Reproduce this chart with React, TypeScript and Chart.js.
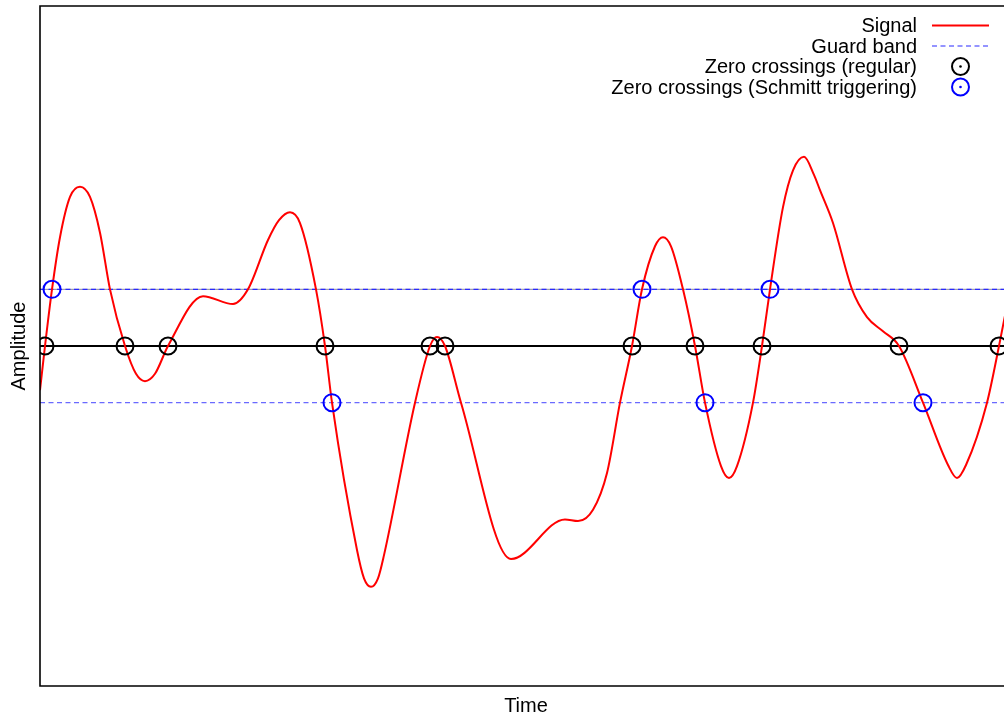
import React, { useEffect, useRef } from "react";
import { Chart, registerables } from "chart.js";

Chart.register(...registerables);

// Sampled signal (time in arbitrary units, amplitude normalised to the guard band)
const signalTime = [
  0.0, 0.5, 1.2, 2.0, 3.0, 4.0, 5.0, 6.0, 7.0, 8.5, 9.6, 10.5, 11.5, 12.8, 16.3, 19.3,
  20.8, 22.8, 23.9, 25.0, 26.0, 27.6, 28.5, 29.2, 31.7, 32.4, 33.1, 33.8, 34.4, 37.5,
  39.0, 39.7, 40.5, 42.1, 47.1, 52.5, 53.8, 55.3, 56.7, 58.0, 59.2, 60.2, 61.5, 62.3,
  63.1, 64.3, 65.5, 66.5, 68.1, 68.9, 69.7, 71.3, 72.2, 73.0, 74.3, 75.3, 76.4, 77.4,
  78.0, 79.3, 81.2, 82.7, 84.3, 85.9, 88.3, 90.8, 91.7, 92.6, 94.7, 95.9, 97.0,
];
const signalAmp = [
  -0.78, 0, 1.0, 1.92, 2.63, 2.81, 2.63, 2.0, 1.0, 0, -0.49, -0.62, -0.49, 0, 0.88, 0.74,
  1.0, 1.87, 2.22, 2.36, 2.17, 1.0, 0, -1.0, -3.6, -4.1, -4.25, -4.1, -3.69, -1.0,
  0, 0.16, 0, -1.0, -3.76, -3.06, -3.09, -2.89, -2.24, -1.0, 0, 1.0, 1.76, 1.92,
  1.76, 1.0, 0, -1.0, -2.12, -2.33, -2.12, -1.0, 0, 1.0, 2.45, 3.1, 3.34, 3.02,
  2.75, 2.17, 1.0, 0.51, 0.26, 0, -1.0, -2.1, -2.33, -2.1, -1.0, 0, 0.99,
];

// Zero crossings found by a plain sign test
const regularCrossTime = [0.5, 8.5, 12.8, 28.5, 39.0, 40.5, 59.2, 65.5, 72.2, 85.9, 95.9];

// Zero crossings found with hysteresis (Schmitt trigger), marked where the guard is passed
const schmittCrossTime = [1.2, 29.2, 60.2, 66.5, 73.0, 88.3];
const schmittCrossLevel = [1, -1, 1, -1, 1, -1];

const guardLevel = 1;
const timeRange = [0, 96.4];
const ampRange = [-6, 6];

const FONT = '"Liberation Sans", Arial, sans-serif';

const legendItems = [
  { label: "Signal", kind: "line" },
  { label: "Guard band", kind: "dash" },
  { label: "Zero crossings (regular)", kind: "circleBlack" },
  { label: "Zero crossings (Schmitt triggering)", kind: "circleBlue" },
];

const framePlugin = {
  id: "frameAndLabels",
  afterDraw(chart: any) {
    const { ctx, chartArea } = chart;
    const { left, top, bottom, right } = chartArea;
    ctx.save();
    // frame (left, top, bottom)
    ctx.strokeStyle = "#000";
    ctx.lineWidth = 1.6;
    ctx.beginPath();
    ctx.moveTo(right + 2, top);
    ctx.lineTo(left, top);
    ctx.lineTo(left, bottom);
    ctx.lineTo(right + 2, bottom);
    ctx.stroke();

    // axis titles
    ctx.fillStyle = "#000";
    ctx.font = `20px ${FONT}`;
    ctx.textAlign = "center";
    ctx.textBaseline = "middle";
    ctx.fillText("Time", 526, 706);
    ctx.save();
    ctx.translate(19, 346);
    ctx.rotate(-Math.PI / 2);
    ctx.fillText("Amplitude", 0, 0);
    ctx.restore();

    // legend, right aligned text with samples to its right
    const textRight = 917;
    const sx0 = 932;
    const sx1 = 989;
    legendItems.forEach((it, i) => {
      const y = 25.5 + i * 20.5;
      ctx.textAlign = "right";
      ctx.textBaseline = "middle";
      ctx.fillStyle = "#000";
      ctx.font = `20px ${FONT}`;
      ctx.fillText(it.label, textRight, y + 1);
      ctx.setLineDash([]);
      if (it.kind === "line") {
        ctx.strokeStyle = "#ff0000";
        ctx.lineWidth = 2;
        ctx.beginPath();
        ctx.moveTo(sx0, y);
        ctx.lineTo(sx1, y);
        ctx.stroke();
      } else if (it.kind === "dash") {
        ctx.strokeStyle = "#2a2aff";
        ctx.lineWidth = 1.2;
        ctx.setLineDash([5, 3.5]);
        ctx.beginPath();
        ctx.moveTo(sx0, y);
        ctx.lineTo(sx1, y);
        ctx.stroke();
        ctx.setLineDash([]);
      } else {
        const col = it.kind === "circleBlack" ? "#000" : "#0000ff";
        ctx.strokeStyle = col;
        ctx.fillStyle = col;
        ctx.lineWidth = 2;
        ctx.beginPath();
        ctx.arc(960.5, y, 8.5, 0, Math.PI * 2);
        ctx.stroke();
        ctx.beginPath();
        ctx.arc(960.5, y, 1.3, 0, Math.PI * 2);
        ctx.fill();
      }
    });
    ctx.restore();
  },
};

export default function App() {
  const canvasRef = useRef<HTMLCanvasElement | null>(null);

  useEffect(() => {
    const canvas = canvasRef.current;
    if (!canvas) return;

    const signal = signalTime.map((t, i) => ({ x: t, y: signalAmp[i] }));
    const regular = regularCrossTime.map((t) => ({ x: t, y: 0 }));
    const schmitt = schmittCrossTime.map((t, i) => ({ x: t, y: schmittCrossLevel[i] }));
    const span = (y: number) => [
      { x: timeRange[0], y },
      { x: timeRange[1] + 5, y },
    ];

    const chart = new Chart(canvas, {
      type: "scatter",
      data: {
        datasets: [
          {
            label: "Zero crossings (regular)",
            data: regular,
            showLine: false,
            pointStyle: "circle",
            pointRadius: 8.5,
            pointBorderWidth: 2,
            pointBorderColor: "#000",
            pointBackgroundColor: "rgba(0,0,0,0)",
            order: 0,
          },
          {
            label: "Zero crossings (Schmitt triggering)",
            data: schmitt,
            showLine: false,
            pointStyle: "circle",
            pointRadius: 8.5,
            pointBorderWidth: 2,
            pointBorderColor: "#0000ff",
            pointBackgroundColor: "rgba(0,0,0,0)",
            order: 0,
          },
          {
            label: "Signal",
            data: signal,
            showLine: true,
            borderColor: "#ff0000",
            borderWidth: 2,
            pointRadius: 0,
            cubicInterpolationMode: "monotone",
            order: 1,
          },
          {
            label: "Zero",
            data: span(0),
            showLine: true,
            borderColor: "#000",
            borderWidth: 2,
            pointRadius: 0,
            order: 2,
          },
          {
            label: "Guard band",
            data: span(guardLevel),
            showLine: true,
            borderColor: "#2a2aff",
            borderWidth: 1.2,
            borderDash: [5, 3.5],
            pointRadius: 0,
            order: 3,
          },
          {
            label: "Guard band (upper shade)",
            data: span(guardLevel),
            showLine: true,
            borderColor: "rgba(60,60,90,0.6)",
            borderWidth: 1,
            pointRadius: 0,
            order: 4,
          },
          {
            label: "Guard band (lower)",
            data: span(-guardLevel),
            showLine: true,
            borderColor: "#6a6aff",
            borderWidth: 1.2,
            borderDash: [5, 3.5],
            pointRadius: 0,
            order: 3,
          },
        ],
      },
      options: {
        animation: false,
        responsive: false,
        maintainAspectRatio: false,
        layout: { autoPadding: false, padding: { left: 40, top: 6, right: 0, bottom: 32 } },
        plugins: {
          legend: { display: false },
          tooltip: { enabled: false },
        },
        scales: {
          x: { type: "linear", display: false, min: timeRange[0], max: timeRange[1] },
          y: { type: "linear", display: false, min: ampRange[0], max: ampRange[1] },
        },
      },
      plugins: [framePlugin],
    });

    return () => chart.destroy();
  }, []);

  return (
    <div
      style={{
        position: "fixed",
        left: 0,
        top: 0,
        width: 1004,
        height: 718,
        background: "#fff",
        overflow: "hidden",
      }}
    >
      <canvas ref={canvasRef} width={1004} height={718} style={{ display: "block" }} />
    </div>
  );
}
